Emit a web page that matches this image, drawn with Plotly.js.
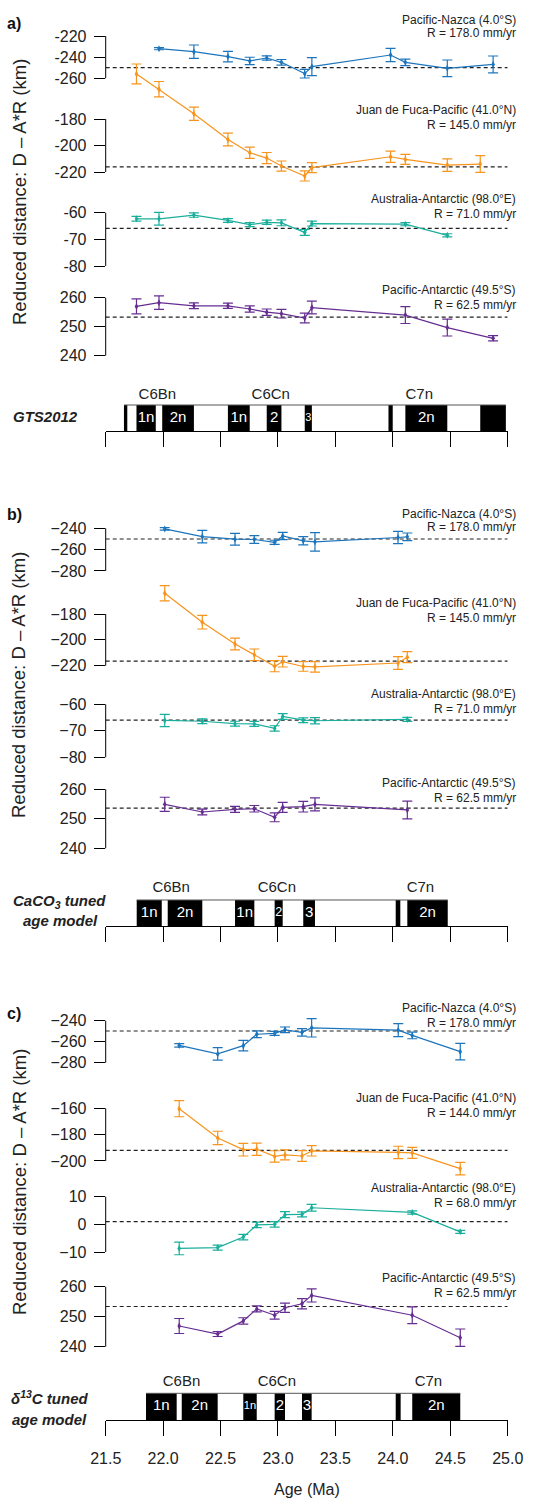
<!DOCTYPE html>
<html><head><meta charset="utf-8">
<script src="https://cdn.plot.ly/plotly-3.0.1.min.js"></script>
<style>html,body{margin:0;padding:0;background:#fff}#chart{width:552px;height:1499px}</style>
</head><body><div id="chart"></div>
<script>
// ================= DATA =================
// x-axis
const xTickVals=[21.5,22.0,22.5,23.0,23.5,24.0,24.5,25.0];
const xTickText=['21.5','22.0','22.5','23.0','23.5','24.0','24.5','25.0'];
const seriesNames=['Pacific-Nazca (4.0°S)','Juan de Fuca-Pacific (41.0°N)','Australia-Antarctic (98.0°E)','Pacific-Antarctic (49.5°S)'];

// ---- Panel a: GTS2012 ----
const aPN_age=[21.964,22.268,22.564,22.754,22.902,23.030,23.233,23.295,23.980,24.109,24.474,24.873];
const aPN_val=[-232.0,-234.8,-239.5,-243.6,-240.8,-244.9,-255.6,-249.0,-238.0,-244.9,-250.6,-246.9];
const aPN_err=[1.0,6.3,5.0,3.5,2.0,2.7,4.1,8.5,6.3,3.1,7.9,8.0];
const aJF_age=[21.768,21.964,22.268,22.564,22.754,22.902,23.030,23.233,23.295,23.980,24.109,24.474,24.761];
const aJF_val=[-146.0,-157.5,-176.0,-195.5,-205.5,-209.5,-215.5,-223.0,-216.7,-208.5,-210.5,-214.8,-214.0];
const aJF_err=[7.5,5.8,5.0,4.8,4.2,4.2,3.8,3.8,3.8,4.3,3.8,4.7,6.3];
const aAA_age=[21.768,21.964,22.268,22.564,22.754,22.902,23.030,23.233,23.295,24.109,24.474];
const aAA_val=[-62.3,-62.3,-60.9,-62.9,-64.5,-63.6,-63.8,-67.4,-64.1,-64.3,-68.5];
const aAA_err=[0.9,2.4,0.8,0.7,0.75,0.8,1.1,1.1,0.9,0.6,0.6];
const aPA_age=[21.768,21.964,22.268,22.564,22.754,22.902,23.030,23.233,23.295,24.109,24.474,24.873];
const aPA_val=[257.0,258.3,257.2,257.2,256.1,255.0,254.5,253.0,256.6,254.0,249.7,246.0];
const aPA_err=[2.6,2.3,1.0,0.9,1.1,1.1,1.5,1.7,2.2,2.9,2.9,0.9];
const aRef=[-250.0,-216.2,-65.9,253.3];
const aRates=['R = 178.0 mm/yr','R = 145.0 mm/yr','R = 71.0 mm/yr','R = 62.5 mm/yr'];
const aTicks=[[-220,-240,-260],[-180,-200,-220],[-60,-70,-80],[260,250,240]];
const aPolStart=[21.659,21.768,21.992,22.564,22.902,23.233,23.962,24.109,24.761];
const aPolEnd=[21.688,21.936,22.268,22.754,23.030,23.295,23.999,24.474,24.984];
const aPolText=['','1n','2n','1n','2','3','','2n',''];
const aChronAge=[21.95,22.937,24.23];
const aChronText=['C6Bn','C6Cn','C7n'];

// ---- Panel b: CaCO3 tuned age model ----
const bPN_age=[22.014,22.341,22.626,22.794,22.971,23.041,23.220,23.322,24.045,24.126];
const bPN_val=[-240.6,-247.8,-250.2,-250.5,-253.1,-247.2,-251.7,-252.7,-248.6,-248.0];
const bPN_err=[1.2,5.9,5.5,3.6,1.9,3.4,3.9,8.6,5.8,3.6];
const bJF_age=[22.014,22.341,22.626,22.794,22.971,23.041,23.220,23.322,24.045,24.126];
const bJF_val=[-164.0,-186.3,-203.2,-211.6,-220.4,-216.9,-220.6,-220.9,-217.9,-213.4];
const bJF_err=[5.9,5.3,4.6,4.5,4.3,4.1,3.7,4.0,4.9,4.3];
const bAA_age=[22.014,22.341,22.626,22.794,22.971,23.041,23.220,23.322,24.126];
const bAA_val=[-66.1,-66.4,-67.3,-67.4,-69.1,-64.6,-66.0,-66.2,-65.7];
const bAA_err=[2.3,0.9,0.9,0.95,1.0,1.1,0.9,1.2,0.75];
const bPA_age=[22.014,22.341,22.626,22.794,22.971,23.041,23.220,23.322,24.126];
const bPA_val=[254.9,252.3,253.2,253.4,250.5,253.9,254.1,254.9,253.0];
const bPA_err=[2.4,1.0,1.0,1.1,1.5,1.7,1.8,2.2,3.0];
const bRef=[-250.0,-216.4,-66.0,253.6];
const bRates=['R = 178.0 mm/yr','R = 145.0 mm/yr','R = 71.0 mm/yr','R = 62.5 mm/yr'];
const bTicks=[[-240,-260,-280],[-180,-200,-220],[-60,-70,-80],[260,250,240]];
const bPolStart=[21.770,22.040,22.626,22.971,23.220,24.025,24.126];
const bPolEnd=[21.988,22.341,22.794,23.041,23.322,24.065,24.478];
const bPolText=['1n','2n','1n','2','3','','2n'];
const bChronAge=[22.07,22.99,24.24];
const bChronText=['C6Bn','C6Cn','C7n'];

// ---- Panel c: d13C tuned age model ----
const cPN_age=[22.140,22.475,22.698,22.815,22.971,23.061,23.209,23.293,24.047,24.169,24.587];
const cPN_val=[-263.5,-271.6,-263.8,-252.9,-252.1,-248.7,-251.1,-246.8,-249.0,-254.0,-269.5];
const cPN_err=[1.7,5.9,5.0,3.3,1.9,2.7,3.5,8.7,6.2,3.2,7.9];
const cJF_age=[22.140,22.475,22.698,22.815,22.971,23.061,23.209,23.293,24.047,24.169,24.587];
const cJF_val=[-160.3,-182.5,-191.4,-191.1,-196.5,-195.4,-196.2,-192.3,-193.5,-193.8,-205.8];
const cJF_err=[6.1,5.1,4.8,4.6,4.3,3.8,4.1,3.9,4.7,4.2,4.8];
const cAA_age=[22.140,22.475,22.698,22.815,22.971,23.061,23.209,23.293,24.169,24.587];
const cAA_val=[-8.7,-8.4,-4.6,-0.2,0.0,3.5,3.6,6.0,4.3,-2.7];
const cAA_err=[2.3,0.9,1.0,1.0,1.0,1.1,0.9,1.2,0.6,0.55];
const cPA_age=[22.140,22.475,22.698,22.815,22.971,23.061,23.209,23.293,24.169,24.587];
const cPA_val=[246.9,244.2,248.6,252.6,250.5,253.0,254.3,257.1,250.5,243.0];
const cPA_err=[2.5,0.8,1.05,1.0,1.3,1.55,1.7,2.2,2.8,2.9];
const cRef=[-249.8,-191.9,1.0,253.4];
const cRates=['R = 178.0 mm/yr','R = 144.0 mm/yr','R = 68.0 mm/yr','R = 62.5 mm/yr'];
const cTicks=[[-240,-260,-280],[-160,-180,-200],[10,0,-10],[260,250,240]];
const cPolStart=[21.851,22.162,22.698,22.971,23.209,24.025,24.169];
const cPolEnd=[22.118,22.475,22.815,23.061,23.293,24.068,24.587];
const cPolText=['1n','2n','1n','2','3','','2n'];
const cChronAge=[22.16,22.99,24.31];
const cChronText=['C6Bn','C6Cn','C7n'];

// ================= LAYOUT / STYLE =================
const W=552,H=1499;
const FONT='"Liberation Sans", Arial, Helvetica, sans-serif';
const COLORS=['#1c75bc','#f7941d','#1aae9c','#662d91'];
const X0PX=105.7, X1PX=507.7;
const PX_PER_MA=(X1PX-X0PX)/3.5;
const xDomain=[X0PX/W, X1PX/W];
const px2x=p=>p/W, py2y=p=>1-p/H;

const panels=[
 {letter:'a)', x:'x2', xk:'xaxis2', yn:[6,7,8,9,10], showX:false,
  ages:[aPN_age,aJF_age,aAA_age,aPA_age], vals:[aPN_val,aJF_val,aAA_val,aPA_val], errs:[aPN_err,aJF_err,aAA_err,aPA_err],
  ref:aRef, rates:aRates, ticks:aTicks, minus:'-',
  pol:[aPolStart,aPolEnd,aPolText], chron:[aChronAge,aChronText],
  L:{axisPx:431, polTopPx:405, chronPx:395, letterPx:24, ytitlePx:192,
     tickPx:[[36,78.3],[119,172],[212.7,266],[297.7,355.7]],
     annPx:[[20,33.3],[110,125],[199.3,214],[290,305]],
     model:[['<b><i>GTS2012</i></b>',45.3,416.7]]}},
 {letter:'b)', x:'x3', xk:'xaxis3', yn:[11,12,13,14,15], showX:false,
  ages:[bPN_age,bJF_age,bAA_age,bPA_age], vals:[bPN_val,bJF_val,bAA_val,bPA_val], errs:[bPN_err,bJF_err,bAA_err,bPA_err],
  ref:bRef, rates:bRates, ticks:bTicks, minus:'\u2212',
  pol:[bPolStart,bPolEnd,bPolText], chron:[bChronAge,bChronText],
  L:{axisPx:926.3, polTopPx:900, chronPx:888.3, letterPx:515, ytitlePx:685,
     tickPx:[[528.3,571],[614,665.7],[704.3,757.3],[789.3,848.3]],
     annPx:[[514,526.7],[603.3,618.3],[694,709.3],[783.3,798.3]],
     model:[['<b><i>CaCO<sub>3</sub> tuned</i></b>',59,901.7],['<b><i>age model</i></b>',60,920]]}},
 {letter:'c)', x:'x', xk:'xaxis', yn:[1,2,3,4,5], showX:true,
  ages:[cPN_age,cJF_age,cAA_age,cPA_age], vals:[cPN_val,cJF_val,cAA_val,cPA_val], errs:[cPN_err,cJF_err,cAA_err,cPA_err],
  ref:cRef, rates:cRates, ticks:cTicks, minus:'\u2212',
  pol:[cPolStart,cPolEnd,cPolText], chron:[cChronAge,cChronText],
  L:{axisPx:1420, polTopPx:1393.3, chronPx:1382.7, letterPx:1013, ytitlePx:1182,
     tickPx:[[1020.7,1062.7],[1108.3,1161],[1196.7,1252],[1286.7,1346.7]],
     annPx:[[1008.3,1023.3],[1098.3,1113.3],[1188.3,1202.7],[1278.3,1293.3]],
     model:[['<b><i>\u03b4<sup>13</sup>C tuned</i></b>',49.7,1397.7],['<b><i>age model</i></b>',49.7,1419.3]]}}
];

const traces=[], shapes=[], annotations=[];
const layout={width:W,height:H,margin:{l:0,r:0,t:0,b:0},paper_bgcolor:'#fff',plot_bgcolor:'rgba(0,0,0,0)',
  showlegend:false,barmode:'overlay',font:{family:FONT,color:'#000'}};
const yid=n=>'y'+(n===1?'':n), ykey=n=>'yaxis'+(n===1?'':n);
function ann(xp,yp,text,o){annotations.push(Object.assign({xref:'paper',yref:'paper',x:px2x(xp),y:py2y(yp),text,showarrow:false,
  xanchor:'center',yanchor:'middle',font:{family:FONT,size:12,color:'#222'}},o||{}));}

panels.forEach(P=>{
  const L=P.L;
  layout[P.xk]={domain:xDomain,range:[21.5,25.0],anchor:'free',position:py2y(L.axisPx),showline:true,linecolor:'#000',linewidth:1,
    ticks:'outside',ticklen:15,tickwidth:1,tickcolor:'#000',tickmode:'array',tickvals:xTickVals,ticktext:xTickText,
    showticklabels:P.showX,ticklabelstandoff:9,showgrid:false,zeroline:false,tickfont:{family:FONT,size:16,color:'#222'},fixedrange:true};
  for(let s=0;s<4;s++){
    const n=P.yn[s], ticks=P.ticks[s], tp=L.tickPx[s];
    const vTop=ticks[0], vBot=ticks[ticks.length-1];
    const k=(tp[1]-tp[0])/(vTop-vBot);
    let lo=Math.min(vBot,P.ref[s]), hi=Math.max(vTop,P.ref[s]);
    P.vals[s].forEach((v,i)=>{lo=Math.min(lo,v-P.errs[s][i]);hi=Math.max(hi,v+P.errs[s][i]);});
    const topPx=tp[0]-(hi-vTop)*k-10, botPx=tp[1]+(vBot-lo)*k+10;
    layout[ykey(n)]={domain:[Math.max(0,py2y(botPx)),Math.min(1,py2y(topPx))],
      range:[vBot-(botPx-tp[1])/k, vTop+(tp[0]-topPx)/k],anchor:P.x,
      tickmode:'array',tickvals:ticks,ticktext:ticks.map(t=>String(t).replace('-',P.minus)),
      ticks:'outside',ticklen:11,tickwidth:1,tickcolor:'#000',ticklabelstandoff:4,showline:false,showgrid:false,zeroline:false,
      tickfont:{family:FONT,size:16,color:'#222'},fixedrange:true};
    shapes.push({type:'line',xref:'paper',yref:yid(n),x0:px2x(X0PX),x1:px2x(X0PX),y0:vTop,y1:vBot,line:{color:'#000',width:1}});
    // reference dashed line
    traces.push({type:'scatter',mode:'lines',x:[21.5,25.0],y:[P.ref[s],P.ref[s]],xaxis:P.x,yaxis:yid(n),
      line:{color:'#222',width:1.2,dash:'4px,3px'},hoverinfo:'skip'});
    traces.push({type:'scatter',mode:'lines+markers',x:P.ages[s],y:P.vals[s],xaxis:P.x,yaxis:yid(n),
      line:{color:COLORS[s],width:1.2},marker:{color:COLORS[s],size:5,symbol:'diamond-tall'},
      error_y:{type:'data',array:P.errs[s],visible:true,color:COLORS[s],thickness:1.2,width:5},hoverinfo:'skip'});
    ann(517.7,L.annPx[s][0],seriesNames[s],{xanchor:'right'});
    ann(517.7,L.annPx[s][1],P.rates[s],{xanchor:'right'});
  }
  // polarity bar
  const pn=P.yn[4], hb=L.axisPx-L.polTopPx, topDom=L.chronPx-14;
  layout[ykey(pn)]={domain:[py2y(L.axisPx),py2y(topDom)],range:[0,(L.axisPx-topDom)/hb],anchor:P.x,visible:false,fixedrange:true};
  const [ps,pe,pt]=P.pol;
  traces.push({type:'bar',orientation:'h',base:ps,x:pe.map((e,i)=>e-ps[i]),y:ps.map(()=>0.5),width:ps.map(()=>1),
    xaxis:P.x,yaxis:yid(pn),marker:{color:'#000',line:{width:0}},hoverinfo:'skip'});
  // block labels (white), sized to fit each block; only blocks that carry a label
  const idx=pt.map((t,i)=>i).filter(i=>pt[i]!=='');
  const mids=idx.map(i=>(ps[i]+pe[i])/2);
  const sizes=idx.map(i=>{const w=(pe[i]-ps[i])*PX_PER_MA;return Math.max(9,Math.min(15,(w-1)/(0.56*pt[i].length)));});
  traces.push({type:'scatter',mode:'text',x:mids,y:idx.map(()=>0.5),text:idx.map(i=>pt[i]),xaxis:P.x,yaxis:yid(pn),
    textfont:{family:FONT,size:sizes,color:'#fff'},textposition:'middle center',hoverinfo:'skip',cliponaxis:false});
  traces.push({type:'scatter',mode:'lines',x:[ps[0],pe[pe.length-1]],y:[1,1],xaxis:P.x,yaxis:yid(pn),
    line:{color:'#555',width:1},hoverinfo:'skip',cliponaxis:false});
  const yc=(L.axisPx-L.chronPx)/hb;
  traces.push({type:'scatter',mode:'text',x:P.chron[0],y:P.chron[0].map(()=>yc),text:P.chron[1],xaxis:P.x,yaxis:yid(pn),
    textfont:{family:FONT,size:15,color:'#222'},textposition:'middle center',hoverinfo:'skip',cliponaxis:false});
  // labels
  ann(14,L.letterPx,'<b>'+P.letter+'</b>',{font:{family:FONT,size:16,color:'#111'}});
  ann(19,L.ytitlePx,'Reduced distance: D \u2013 A*R (km)',{textangle:-90,font:{family:FONT,size:18.5,color:'#222'}});
  L.model.forEach(m=>ann(m[1],m[2],m[0],{font:{family:FONT,size:15,color:'#222'}}));
});
ann(306.7,1489,'Age (Ma)',{font:{family:FONT,size:16,color:'#222'}});
layout.shapes=shapes; layout.annotations=annotations;
Plotly.newPlot('chart',traces,layout,{staticPlot:true,displayModeBar:false});
</script></body></html>
